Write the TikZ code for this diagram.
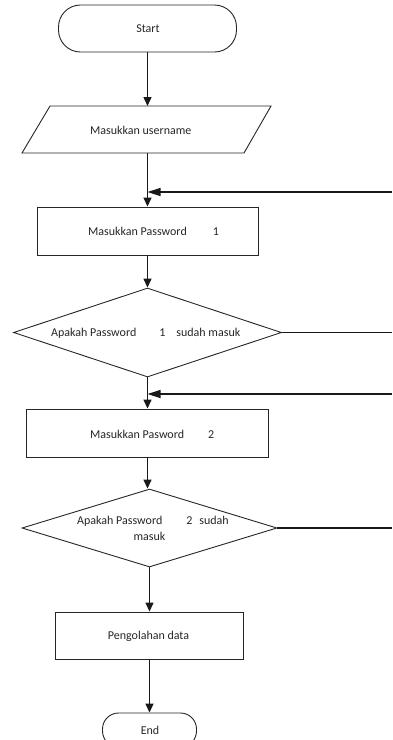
\documentclass[tikz,border=0pt]{standalone}
\usepackage{fontspec}
\setmainfont{Carlito}
\usetikzlibrary{arrows.meta,shapes.geometric}
\begin{document}
\begin{tikzpicture}[x=1pt,y=-1pt,
  shapebox/.style={draw=black!85,line width=0.9pt,inner sep=0pt,fill=white},
  lbl/.style={font=\fontsize{12}{14}\selectfont,inner sep=0pt,text=black!85},
  flow/.style={line width=1.4pt,draw=black!90,-{Triangle[length=9pt,width=8pt]}},
  backflow/.style={line width=1.4pt,draw=black!90,-{Triangle[length=13pt,width=8pt]}},
  plain/.style={line width=1.4pt,draw=black!90}]
\useasboundingbox (0,0) rectangle (392,740);
% shapes
\node[shapebox,rounded corners=22pt,minimum width=178pt,minimum height=47pt] (start) at (147.5,28.5) {};
\node[lbl] (tstart) at (148,28.5) {Start};
\draw[shapebox] (50,106) -- (271,106) -- (244,153) -- (22,153) -- cycle;
\coordinate (usertop) at (147.5,106);
\coordinate (userbot) at (147.5,153);
\node[lbl,anchor=west] (tuser) at (90,130) {Masukkan username};
\node[shapebox,minimum width=221pt,minimum height=48pt] (p1) at (147.5,231) {};
\node[lbl,anchor=west] (tp1) at (88,231) {Masukkan Password\hspace{26pt}1};
\node[shapebox,diamond,minimum width=268pt,minimum height=89pt] (d1) at (147.5,332.5) {};
\node[lbl,anchor=west] (td1) at (51,333) {Apakah Password\hspace{23pt}1\hspace{11pt}sudah masuk};
\node[shapebox,minimum width=242pt,minimum height=48pt] (p2) at (147.5,433) {};
\node[lbl,anchor=west] (tp2) at (90,434) {Masukkan Pasword\hspace{24pt}2};
\node[shapebox,diamond,minimum width=255pt,minimum height=78pt] (d2) at (149.5,528) {};
\node[lbl,anchor=west] (td2a) at (77,521) {Apakah Password\hspace{24pt}2\hspace{7pt}sudah};
\node[lbl] (td2b) at (149.5,536) {masuk};
\node[shapebox,minimum width=188pt,minimum height=47pt] (proc) at (149.5,635.5) {};
\node[lbl] (tproc) at (148.5,636) {Pengolahan data};
\node[shapebox,rounded corners=16pt,minimum width=94pt,minimum height=34pt] (endn) at (149.5,730) {};
\node[lbl] (tend) at (150,730) {End};
% feedback coordinates
\coordinate (fb1) at (392,192);
\coordinate (fb2) at (392,394);
\coordinate (r1) at (392,332.5);
\coordinate (r2) at (392,528);
% connectors
\draw[flow] (start.south) -- (usertop);
\draw[flow] (userbot) -- (p1.north);
\draw[backflow] (fb1) -- (fb1 -| p1.north);
\draw[flow] (p1.south) -- (d1.north);
\draw[plain] (d1.east) -- (r1);
\draw[flow] (d1.south) -- (p2.north);
\draw[backflow] (fb2) -- (fb2 -| p2.north);
\draw[flow] (p2.south) -- (p2.south |- d2.north);
\draw[plain] (d2.east) -- (r2);
\draw[flow] (d2.south) -- (proc.north);
\draw[flow] (proc.south) -- (endn.north);
\end{tikzpicture}
\end{document}
